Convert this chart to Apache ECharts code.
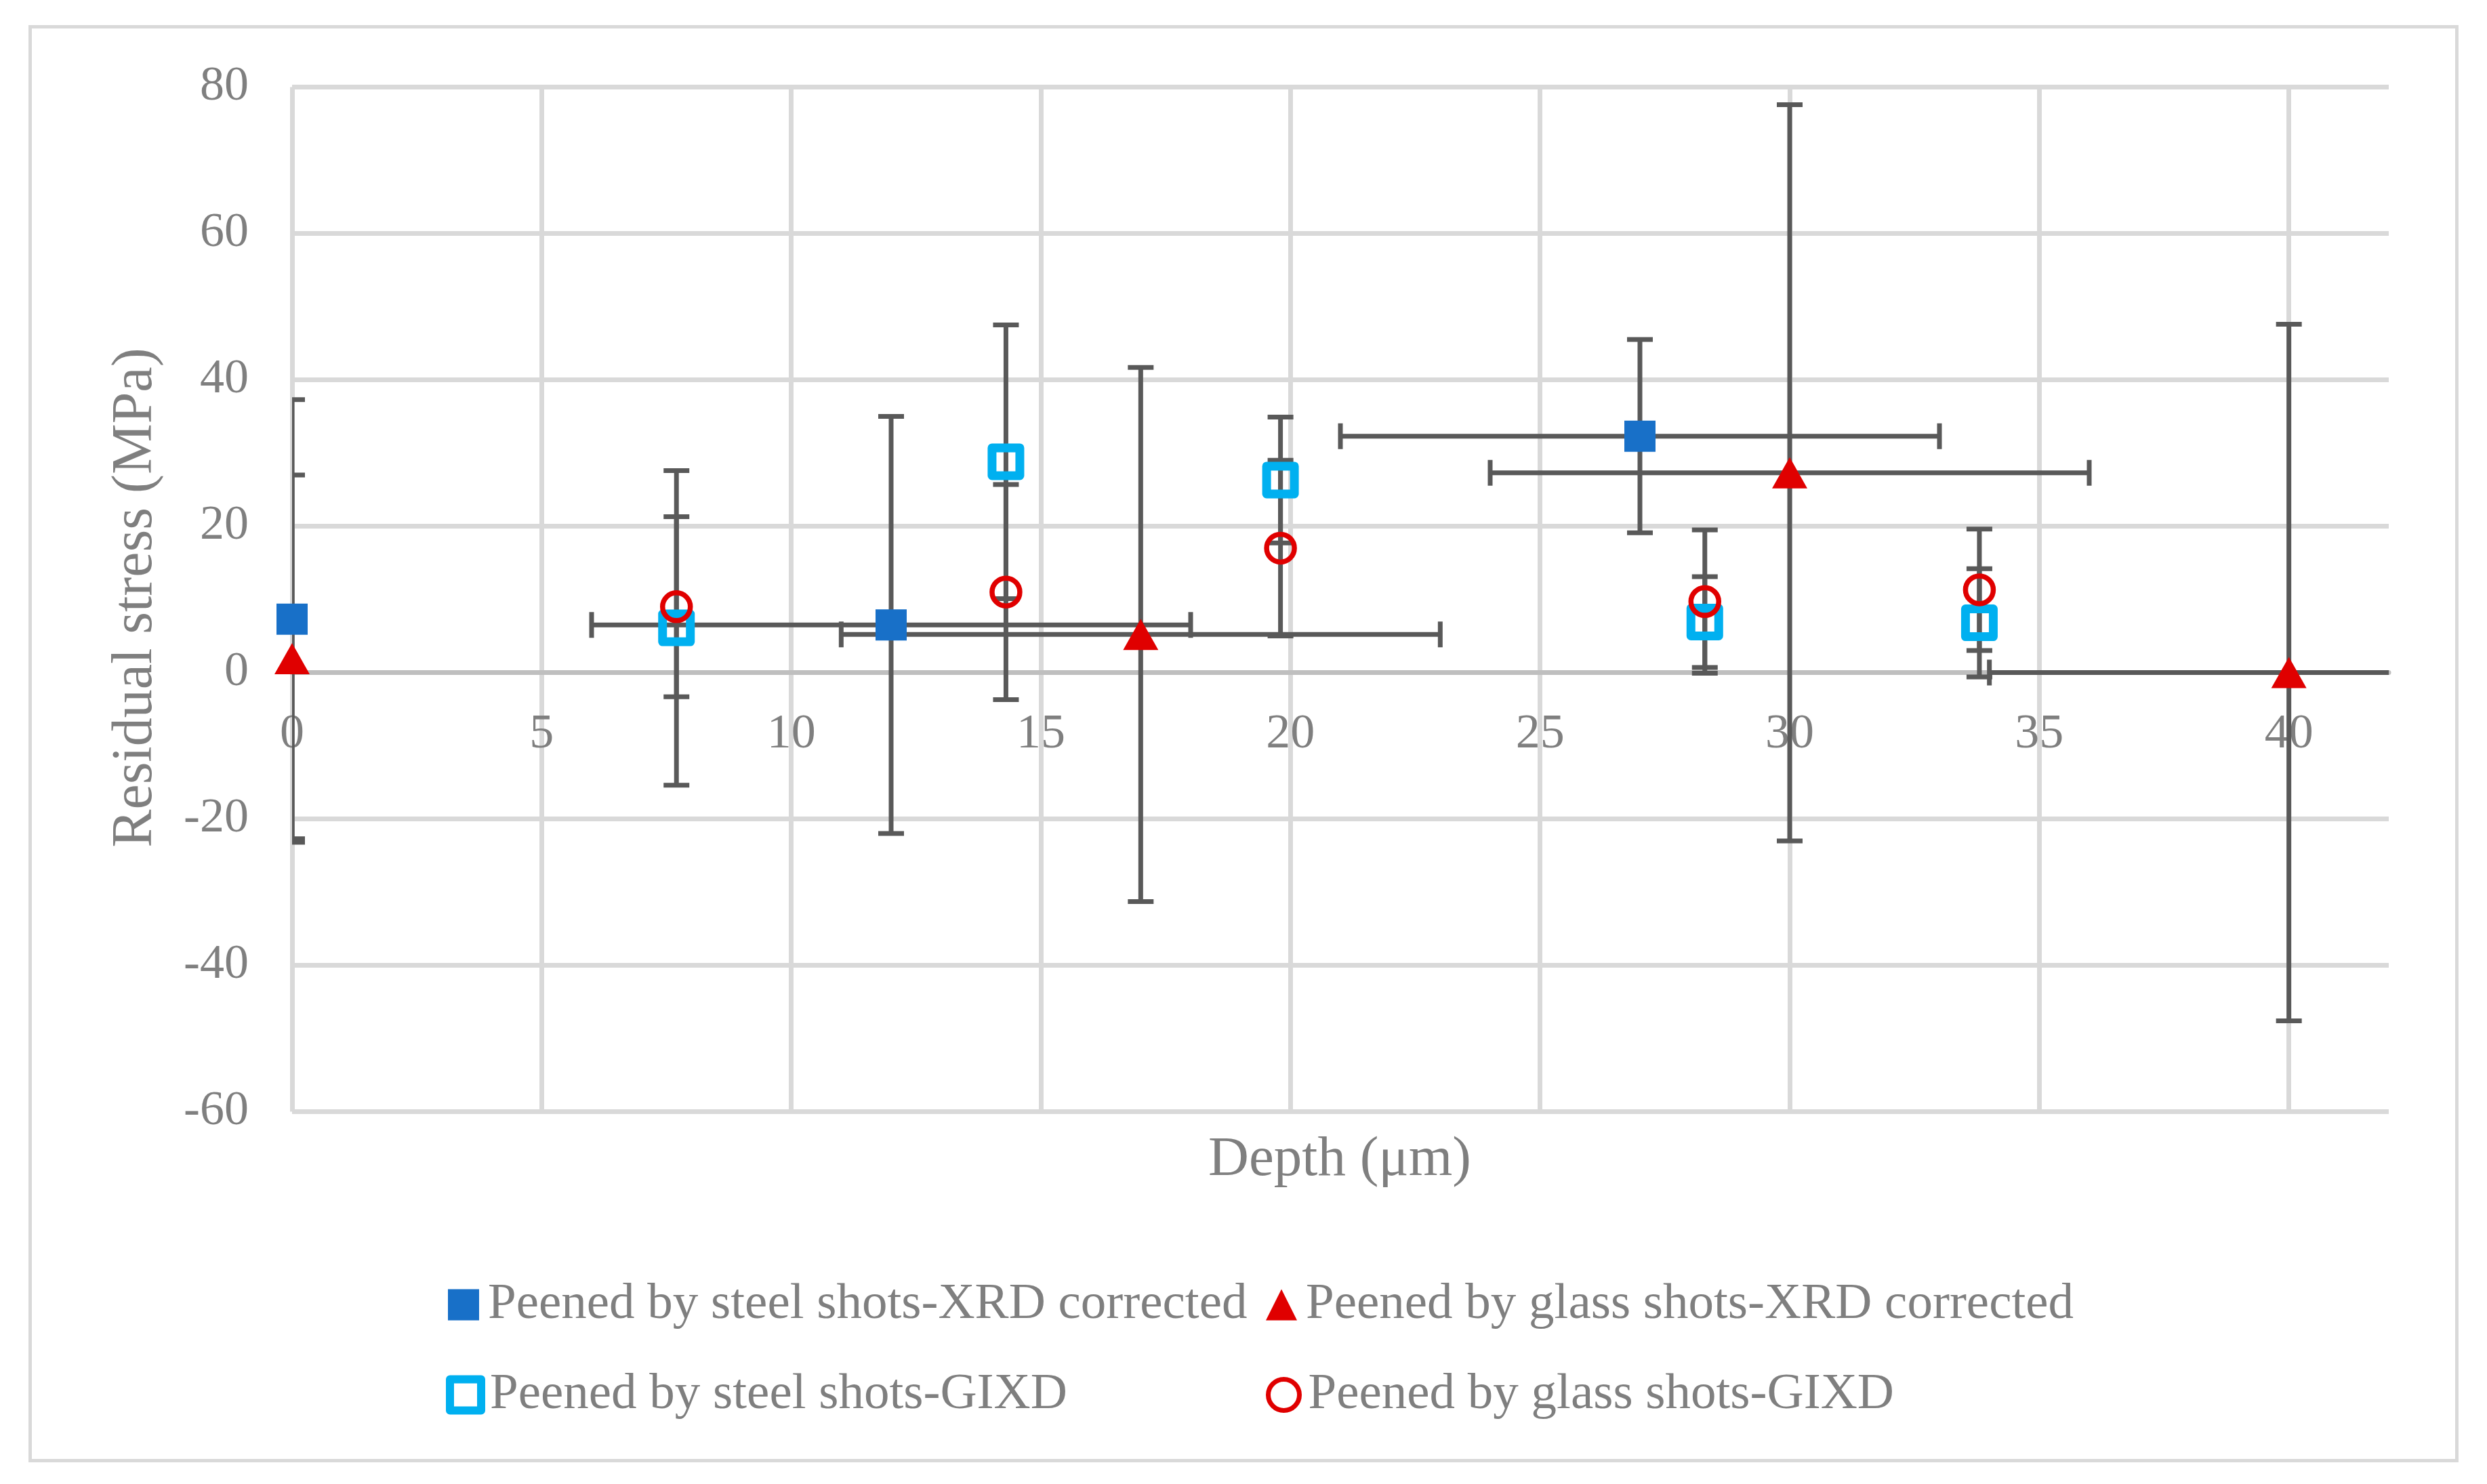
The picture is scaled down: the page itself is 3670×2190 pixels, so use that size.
<!DOCTYPE html>
<html>
<head>
<meta charset="utf-8">
<script src="https://cdn.jsdelivr.net/npm/echarts@6/dist/echarts.min.js"></script>
<style>
html,body{margin:0;padding:0;background:#fff;}
#chart{width:3670px;height:2190px;}
</style>
</head>
<body>
<div id="chart"></div>
<script>
// ---- Data ----
const seriesNames = [
  'Peened by steel shots-XRD corrected',
  'Peened by glass shots-XRD corrected',
  'Peened by steel shots-GIXD',
  'Peened by glass shots-GIXD'
];
// Steel XRD corrected
const steelXrdX = [0, 12, 27];
const steelXrdY = [7.3, 6.5, 32.3];
const steelXrdYErr = [30, 28.5, 13.2];
const steelXrdXErr = [0, 6, 6];
// Glass XRD corrected
const glassXrdX = [0, 17, 30, 40];
const glassXrdY = [1.9, 5.2, 27.3, 0];
const glassXrdYErr = [25.1, 36.5, 50.3, 47.6];
const glassXrdXErr = [0, 6, 6, 6];
// Steel GIXD
const steelGixdX = [7.7, 14.3, 19.8, 28.3, 33.8];
const steelGixdY = [6.1, 28.8, 26.3, 6.9, 6.8];
const steelGixdYErr = [21.5, 18.7, 8.6, 6.2, 7.4];
// Glass GIXD
const glassGixdX = [7.7, 14.3, 19.8, 28.3, 33.8];
const glassGixdY = [9.0, 11.0, 17.0, 9.7, 11.3];
const glassGixdYErr = [12.3, 14.7, 12.0, 9.8, 8.3];
// Axes
const xTickValues = [0, 5, 10, 15, 20, 25, 30, 35, 40];
const yTickValues = [-60, -40, -20, 0, 20, 40, 60, 80];

// ---- Styling ----
const FONT = 'Liberation Serif';
const TXT = '#7f7f7f';
const C_STEEL = '#1870C8';
const C_STEEL_G = '#00B0F0';
const C_RED = '#E00000';
const ERR = '#595959';

const GRID_TOP = 128.5, GRID_BOTTOM_PX = 1640.5;
const Y_MIN = -60, Y_MAX = 80;
// pixel distance from grid bottom to the y=0 line (x axis crosses at 0, as in the original)
const xAxisOffset = -(GRID_BOTTOM_PX - GRID_TOP) * (0 - Y_MIN) / (Y_MAX - Y_MIN);

function pts(xs, ys) { return xs.map((x, i) => [x, ys[i]]); }
function errData(xs, ys, ye, xe) { return xs.map((x, i) => [x, ys[i], ye[i], xe ? xe[i] : 0]); }

function errRender(params, api) {
  const x = api.value(0), y = api.value(1), ey = api.value(2), ex = api.value(3);
  const cap = 19;
  const st = { stroke: ERR, lineWidth: 7, fill: null };
  const ch = [];
  if (ey > 0) {
    const t = api.coord([x, y + ey]), b = api.coord([x, y - ey]);
    ch.push({ type: 'line', shape: { x1: t[0], y1: t[1], x2: b[0], y2: b[1] }, style: st });
    ch.push({ type: 'line', shape: { x1: t[0] - cap, y1: t[1], x2: t[0] + cap, y2: t[1] }, style: st });
    ch.push({ type: 'line', shape: { x1: b[0] - cap, y1: b[1], x2: b[0] + cap, y2: b[1] }, style: st });
  }
  if (ex > 0) {
    const l = api.coord([x - ex, y]), r = api.coord([x + ex, y]);
    ch.push({ type: 'line', shape: { x1: l[0], y1: l[1], x2: r[0], y2: r[1] }, style: st });
    ch.push({ type: 'line', shape: { x1: l[0], y1: l[1] - cap, x2: l[0], y2: l[1] + cap }, style: st });
    ch.push({ type: 'line', shape: { x1: r[0], y1: r[1] - cap, x2: r[0], y2: r[1] + cap }, style: st });
  }
  return { type: 'group', children: ch };
}
function errSeries(id, data) {
  return { type: 'custom', name: id, renderItem: errRender, data: data, clip: true, z: 1,
           encode: { x: 0, y: 1 }, silent: true, animation: false };
}

const legendBase = {
  orient: 'horizontal', padding: 0, itemGap: 0, itemWidth: 46, itemHeight: 46,
  textStyle: { fontFamily: FONT, fontSize: 75, color: TXT, padding: [0, 0, 0, 8] },
  selectedMode: true
};

const chart = echarts.init(document.getElementById('chart'));
chart.setOption({
  animation: false,
  backgroundColor: '#fff',
  grid: { left: 431, top: GRID_TOP, right: 145, bottom: 2190 - GRID_BOTTOM_PX, containLabel: false },
  xAxis: {
    type: 'value', min: 0, max: 42, interval: 5, position: 'bottom', offset: xAxisOffset,
    axisLine: { show: true, onZero: false, lineStyle: { color: '#bfbfbf', width: 7 } },
    axisTick: { show: false },
    axisLabel: { fontFamily: FONT, fontSize: 72, color: TXT, margin: 56, showMaxLabel: false,
                 formatter: v => (xTickValues.indexOf(v) >= 0 ? String(v) : '') },
    splitLine: { show: true, showMaxLine: false, lineStyle: { color: '#d9d9d9', width: 7 } }
  },
  yAxis: {
    type: 'value', min: Y_MIN, max: Y_MAX, interval: 20,
    axisLine: { show: false, onZero: false },
    axisTick: { show: false },
    axisLabel: { fontFamily: FONT, fontSize: 72, color: TXT, margin: 64,
                 formatter: v => (yTickValues.indexOf(v) >= 0 ? String(v) : '') },
    splitLine: { show: true, lineStyle: { color: '#d9d9d9', width: 7 } }
  },
  legend: [
    Object.assign({}, legendBase, { left: 661, top: 1888,
      data: [{ name: seriesNames[0], icon: 'rect', itemStyle: { color: C_STEEL } }] }),
    Object.assign({}, legendBase, { left: 1868, top: 1888,
      data: [{ name: seriesNames[1], icon: 'triangle', itemStyle: { color: C_RED } }] }),
    Object.assign({}, legendBase, { left: 658, top: 2021,
      data: [{ name: seriesNames[2], icon: 'rect', itemStyle: { color: '#fff', borderColor: C_STEEL_G, borderWidth: 12 } }] }),
    Object.assign({}, legendBase, { left: 1868, top: 2021,
      data: [{ name: seriesNames[3], icon: 'circle', itemStyle: { color: '#fff', borderColor: C_RED, borderWidth: 7 } }] })
  ],
  graphic: [
    { type: 'rect', left: 42, top: 37, z: -10, silent: true,
      shape: { width: 3581, height: 2116 }, style: { fill: 'rgba(0,0,0,0)', stroke: '#d9d9d9', lineWidth: 5 } },
    { type: 'text', x: 1977, y: 1712, silent: true,
      style: { text: 'Depth (μm)', fontFamily: FONT, fontSize: 83, fill: TXT, align: 'center', verticalAlign: 'middle' } },
    { type: 'text', x: 201, y: 882, rotation: Math.PI / 2, silent: true,
      style: { text: 'Residual stress (MPa)', fontFamily: FONT, fontSize: 84, fill: TXT, align: 'center', verticalAlign: 'middle' } }
  ],
  series: [
    errSeries('err-steel-xrd', errData(steelXrdX, steelXrdY, steelXrdYErr, steelXrdXErr)),
    errSeries('err-glass-xrd', errData(glassXrdX, glassXrdY, glassXrdYErr, glassXrdXErr)),
    errSeries('err-steel-gixd', errData(steelGixdX, steelGixdY, steelGixdYErr)),
    errSeries('err-glass-gixd', errData(glassGixdX, glassGixdY, glassGixdYErr)),
    { type: 'scatter', name: seriesNames[0], data: pts(steelXrdX, steelXrdY), symbol: 'rect', symbolSize: 46,
      itemStyle: { color: C_STEEL, opacity: 1 }, z: 3, clip: false },
    { type: 'scatter', name: seriesNames[1], data: pts(glassXrdX, glassXrdY), symbol: 'triangle', symbolSize: [52, 46],
      itemStyle: { color: C_RED, opacity: 1 }, z: 3, clip: false },
    { type: 'scatter', name: seriesNames[2], data: pts(steelGixdX, steelGixdY), symbol: 'rect', symbolSize: 41,
      itemStyle: { color: 'rgba(255,255,255,0)', borderColor: C_STEEL_G, borderWidth: 13, borderJoin: 'round', opacity: 1 }, z: 3, clip: false },
    { type: 'scatter', name: seriesNames[3], data: pts(glassGixdX, glassGixdY), symbol: 'circle', symbolSize: 41,
      itemStyle: { color: 'rgba(255,255,255,0)', borderColor: C_RED, borderWidth: 7.5, opacity: 1 }, z: 3, clip: false }
  ]
});
</script>
</body>
</html>
